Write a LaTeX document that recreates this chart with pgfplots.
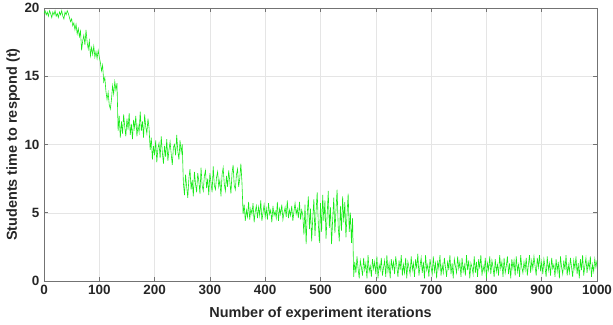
\documentclass[border=0pt]{standalone}
\usepackage{fontspec}
\setmainfont{Liberation Sans}
\usepackage{pgfplots}
\pgfplotsset{compat=1.18}
\definecolor{lineg}{RGB}{25,235,25}
\begin{document}
\begin{tikzpicture}
\begin{axis}[
  scale only axis,
  width=553bp, height=273bp,
  xmin=0, xmax=1000, ymin=0, ymax=20,
  xtick={0,100,...,1000}, ytick={0,5,10,15,20},
  grid=major,
  major grid style={draw=gray!20, line width=0.5pt},
  axis line style={draw=black!55, line width=0.7pt},
  tick style={draw=black!55, line width=0.6pt},
  major tick length=4bp,
  tick align=inside,
  /pgf/number format/assume math mode=true,
  /pgf/number format/1000 sep={},
  tick label style={font=\fontsize{13.5}{15}\selectfont\bfseries, text=black!85},
  label style={font=\fontsize{14.5}{16}\selectfont\bfseries, text=black!85},
  xlabel={Number of experiment iterations},
  ylabel={Students time to respond (t)},
  xlabel style={at={(axis description cs:0.5,-0.120)}, anchor=center},
  ylabel style={at={(axis description cs:-0.056,0.5)}, anchor=center},
  xticklabel style={yshift=-1bp},
  yticklabel style={xshift=-1bp},
]
\coordinate (bl) at (rel axis cs:0,0);
\coordinate (tr) at (rel axis cs:1,1);
\addplot[color=lineg, line width=0.6pt, mark=none] table {
x y
0 19.6
2 19.8
4 19.5
6 19.7
8 19.4
10 19.8
12 19.6
14 19.3
16 19.7
18 19.5
20 19.8
22 19.4
24 19.6
26 19.3
28 19.7
30 19.5
32 19.8
34 19.4
36 19.2
38 19.7
40 19.5
42 19.8
44 19.6
46 19.3
48 19.0
50 19.2
52 18.7
54 18.9
56 18.4
58 18.8
60 18.1
62 18.5
64 17.9
66 18.3
68 16.9
70 17.6
72 18.0
74 17.3
76 18.4
78 17.5
80 17.0
82 17.6
84 16.5
86 17.1
88 16.6
90 17.2
92 16.4
94 16.8
96 16.3
98 16.9
100 16.4
102 16.0
104 15.4
106 15.8
108 14.6
110 14.9
112 13.9
114 13.3
116 13.8
118 12.9
120 12.6
122 13.3
124 14.3
126 13.7
128 14.6
130 14.0
132 14.5
134 11.0
136 12.1
138 10.5
140 11.7
142 10.8
144 12.2
146 11.3
148 10.6
150 11.9
152 11.1
154 12.3
156 10.7
158 11.5
160 10.4
162 11.8
164 11.2
166 12.1
168 10.6
170 11.4
172 10.9
174 12.4
176 11.0
178 11.7
180 10.5
182 12.2
184 11.3
186 10.8
188 11.9
190 11.2
192 9.6
194 10.5
196 8.9
198 9.9
200 9.2
202 10.3
204 8.7
206 9.7
208 10.1
210 9.0
212 10.6
214 9.4
216 8.6
218 9.9
220 9.1
222 10.4
224 8.8
226 9.6
228 10.2
230 9.3
232 8.5
234 9.8
236 10.0
238 9.2
240 10.7
242 9.5
244 8.9
246 10.3
248 9.4
250 10.0
252 7.2
254 6.3
256 7.8
258 6.9
260 6.1
262 7.5
264 8.2
266 6.7
268 7.4
270 6.2
272 8.0
274 7.1
276 6.5
278 7.9
280 7.3
282 6.4
284 8.3
286 7.0
288 6.6
290 7.7
292 8.1
294 6.8
296 7.5
298 6.3
300 7.9
302 7.2
304 6.5
306 8.4
308 7.0
310 6.7
312 7.6
314 8.0
316 6.9
318 7.4
320 6.2
322 7.8
324 8.3
326 7.1
328 6.6
330 7.7
332 6.9
334 8.1
336 7.3
338 6.4
340 7.9
342 8.5
344 7.0
346 6.7
348 7.8
350 8.2
352 6.9
354 7.5
356 8.6
358 7.2
360 4.9
362 5.6
364 4.4
366 5.2
368 4.7
370 5.8
372 4.5
374 5.3
376 4.9
378 5.7
380 4.3
382 5.1
384 5.5
386 4.6
388 5.4
390 4.8
392 5.9
394 4.4
396 5.0
398 5.6
400 4.7
402 5.3
404 4.5
406 5.7
408 4.9
410 5.2
412 4.3
414 5.5
416 4.8
418 5.1
420 4.6
422 5.8
424 4.4
426 5.3
428 4.9
430 5.6
432 4.5
434 5.0
436 5.4
438 4.7
440 5.9
442 4.6
444 5.2
446 4.8
448 5.5
450 4.4
452 5.1
454 5.7
456 4.9
458 5.3
460 4.6
462 5.8
464 4.5
466 5.2
468 4.8
470 3.4
472 5.6
474 2.7
476 4.9
478 6.2
480 3.8
482 5.3
484 2.9
486 4.6
488 6.0
490 3.3
492 5.1
494 6.5
496 4.2
498 2.8
500 5.7
502 3.6
504 6.3
506 4.4
508 5.9
510 3.1
512 4.8
514 6.6
516 3.9
518 5.4
520 2.7
522 4.5
524 6.1
526 3.5
528 5.2
530 6.7
532 4.0
534 2.9
536 5.5
538 3.7
540 6.2
542 4.3
544 5.8
546 3.2
548 4.9
550 6.4
552 3.6
554 5.0
556 2.8
558 4.6
560 0.3
562 1.4
564 0.6
566 1.8
568 0.9
570 0.2
572 1.5
574 1.0
576 0.4
578 1.7
580 0.8
582 1.3
584 0.2
586 1.9
588 0.7
590 1.1
592 0.3
594 1.6
596 0.9
598 1.4
600 0.5
602 1.8
604 0.2
606 1.2
608 0.8
610 1.7
612 0.4
614 1.0
616 1.5
618 0.3
620 1.9
622 0.7
624 1.3
626 0.2
628 1.6
630 0.9
632 1.4
634 0.5
636 1.8
638 1.1
640 0.3
642 1.5
644 0.8
646 1.9
648 0.4
650 1.2
652 0.6
654 1.7
656 0.2
658 1.4
660 1.0
662 0.5
664 1.8
666 0.8
668 1.3
670 0.3
672 1.6
674 0.9
676 2.0
678 0.4
680 1.1
682 1.7
684 0.6
686 1.4
688 0.2
690 1.9
692 0.8
694 1.2
696 0.3
698 1.6
700 1.0
702 0.5
704 1.8
706 0.7
708 1.3
710 0.2
712 1.5
714 0.9
716 1.9
718 0.4
720 1.2
722 0.6
724 1.7
726 1.0
728 0.3
730 1.5
732 0.8
734 1.9
736 0.5
738 1.3
740 0.2
742 1.6
744 1.1
746 0.6
748 1.8
750 0.9
752 1.4
754 0.3
756 1.7
758 0.7
760 1.2
762 0.4
764 1.9
766 0.8
768 1.5
770 0.2
772 1.3
774 1.0
776 0.5
778 1.8
780 0.6
782 1.4
784 0.3
786 1.6
788 0.9
790 1.9
792 0.4
794 1.1
796 0.7
798 1.7
800 0.2
802 1.3
804 0.8
806 1.8
808 0.5
810 1.5
812 1.0
814 0.3
816 1.6
818 0.7
820 1.2
822 0.4
824 1.9
826 0.9
828 1.4
830 0.3
832 1.7
834 0.6
836 1.1
838 1.8
840 0.5
842 1.3
844 0.2
846 1.6
848 0.9
850 1.5
852 0.4
854 1.8
856 0.7
858 1.2
860 0.3
862 1.9
864 1.0
866 0.6
868 1.4
870 0.8
872 1.7
874 0.4
876 1.2
878 1.9
880 0.6
882 1.5
884 0.9
886 1.8
888 1.1
890 0.4
892 1.7
894 1.0
896 1.9
898 0.7
900 1.4
902 0.5
904 1.6
906 1.0
908 0.3
910 1.8
912 0.8
914 1.3
916 0.4
918 1.7
920 0.9
922 1.2
924 0.3
926 1.6
928 0.7
930 1.4
932 0.2
934 1.8
936 1.0
938 0.5
940 1.5
942 0.8
944 1.9
946 0.4
948 1.2
950 0.6
952 1.7
954 1.0
956 0.3
958 1.5
960 0.9
962 1.8
964 0.5
966 1.3
968 0.2
970 1.6
972 0.8
974 1.9
976 0.4
978 1.1
980 1.7
982 0.6
984 1.4
986 0.9
988 1.8
990 0.3
992 1.2
994 0.7
996 1.6
998 1.0
1000 1.5
};
\end{axis}
\pgfresetboundingbox
\path ([shift={(-44bp,-44bp)}]bl) rectangle ([shift={(16bp,8bp)}]tr);
\end{tikzpicture}
\end{document}
